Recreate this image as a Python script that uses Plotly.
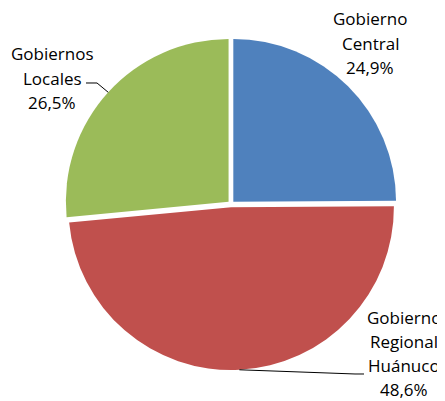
import math
import plotly.graph_objects as go

labels = ["Gobierno<br>Central", "Gobierno<br>Regional<br>Huánuco", "Gobiernos<br>Locales"]
values = [24.9, 48.6, 26.5]
pct_text = ["24,9%", "48,6%", "26,5%"]
colors = ["#4F81BD", "#C0504D", "#9BBB59"]

W, H = 445, 401
OFF = 8                    # page body margin
CX, CY, R = 231, 204, 166  # pie centre and pulled radius in page pixels
PULL = 0.02


def px(x, y):
    return (x - OFF) / W, 1 - (y - OFF) / H


fig = go.Figure(go.Pie(
    labels=labels, values=values, sort=False, direction="clockwise", rotation=0,
    marker=dict(colors=colors, line=dict(width=0)),
    pull=PULL, textinfo="none", hoverinfo="label+percent", showlegend=False,
    domain=dict(x=[px(CX - R, 0)[0], px(CX + R, 0)[0]],
                y=[px(0, CY + R)[1], px(0, CY - R)[1]]),
))

# label block: centre x, y of first line, line step
label_pos = [(370, 19), (404, 317), (52, 54)]
STEP = 24.0
font = dict(family="Open Sans", size=17, color="#000000")

total = sum(values)
start = 90.0
shapes = []
for i, v in enumerate(values):
    span = v / total * 360
    mid = start - span / 2
    start -= span
    lx, ly = label_pos[i]
    lines = labels[i].split("<br>") + [pct_text[i]]
    for k, t in enumerate(lines):
        x, y = px(lx, ly + k * STEP)
        fig.add_annotation(x=x, y=y, xref="paper", yref="paper", text=t, showarrow=False,
                           font=font, xanchor="center", yanchor="middle", borderpad=0)
    ex = CX + R * math.cos(math.radians(mid))
    ey = CY - R * math.sin(math.radians(mid))
    if i == 2:
        pts = [(ex, ey), (97, 83), (86, 83)]
    elif i == 1:
        pts = [(ex, ey), (355, 374), (364, 374)]
    else:
        pts = None
    if pts:
        path = "M " + " L ".join(f"{px(a, b)[0]:.4f},{px(a, b)[1]:.4f}" for a, b in pts)
        shapes.append(dict(type="path", xref="paper", yref="paper", path=path,
                           line=dict(color="#000000", width=1)))

fig.update_layout(width=W, height=H, margin=dict(l=0, r=0, t=0, b=0),
                  paper_bgcolor="white", plot_bgcolor="white", shapes=shapes)
fig.write_html("out.html")
